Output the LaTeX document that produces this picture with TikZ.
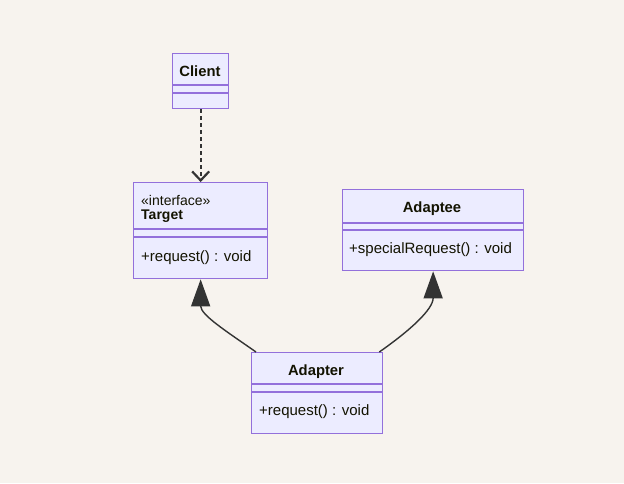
\documentclass[tikz,border=0pt]{standalone}
\usepackage{fontspec}
\setmainfont{Liberation Sans}
\usetikzlibrary{arrows.meta}

\definecolor{bgcol}{HTML}{F7F3EE}
\definecolor{boxfill}{HTML}{ECECFF}
\definecolor{boxline}{HTML}{9370DB}
\definecolor{linecol}{HTML}{333333}
\definecolor{txtcol}{HTML}{131300}

\tikzset{
  classbox/.style={rectangle, draw=boxline, fill=boxfill, line width=1.3pt, inner sep=0pt, anchor=north west},
  divider/.style={draw=boxline, line width=1.3pt},
  classtext/.style={text=txtcol, inner sep=0pt, font=\fontsize{15}{18}\selectfont},
  classname/.style={classtext, font=\fontsize{14.8}{18}\selectfont\bfseries},
  relline/.style={draw=linecol, line width=1.4pt}
}

\begin{document}
\begin{tikzpicture}[x=1pt, y=-1pt]
  \fill[bgcol] (0,0) rectangle (624,483);

  % Client
  \node[classbox, minimum width=56, minimum height=55] (client) at (172,53) {};
  \draw[divider] (172,85) -- (228,85);
  \draw[divider] (172,93) -- (228,93);
  \node[classname, anchor=base] (clientname) at (200,76) {Client};

  % Target
  \node[classbox, minimum width=134, minimum height=96] (target) at (133,182) {};
  \draw[divider] (133,229) -- (267,229);
  \draw[divider] (133,237) -- (267,237);
  \node[classtext, font=\fontsize{14}{17}\selectfont, anchor=base west] (targetstereo) at (141,205) {«interface»};
  \node[classname, font=\fontsize{14}{17}\selectfont\bfseries, anchor=base west] (targetname) at (141,219.5) {Target};
  \node[classtext, anchor=base west] (targetop) at (141,261) {+request() : void};

  % Adaptee
  \node[classbox, minimum width=181, minimum height=81] (adaptee) at (342,189) {};
  \draw[divider] (342,223) -- (523,223);
  \draw[divider] (342,230) -- (523,230);
  \node[classname, anchor=base] (adapteename) at (432,212.5) {Adaptee};
  \node[classtext, anchor=base west] (adapteeop) at (349,253.5) {+specialRequest() : void};

  % Adapter
  \node[classbox, minimum width=131, minimum height=81] (adapter) at (251,352) {};
  \draw[divider] (251,384) -- (382,384);
  \draw[divider] (251,392) -- (382,392);
  \node[classname, anchor=base] (adaptername) at (316,375.5) {Adapter};
  \node[classtext, anchor=base west] (adapterop) at (259,415.5) {+request() : void};

  % relations
  \draw[relline, line width=1.7pt, dash pattern=on 4pt off 3pt, -{Straight Barb[length=9pt, width=17pt, line width=2.2pt]}] (client.south) -- (target.north);
  \draw[relline, -{Triangle[length=27pt, width=19pt]}] ([xshift=5pt]adapter.north west) to[out=145, in=-90] (target.south);
  \draw[relline, -{Triangle[length=27pt, width=19pt]}] ([xshift=-4pt]adapter.north east) to[out=35, in=-90] (adaptee.south);
\end{tikzpicture}
\end{document}
